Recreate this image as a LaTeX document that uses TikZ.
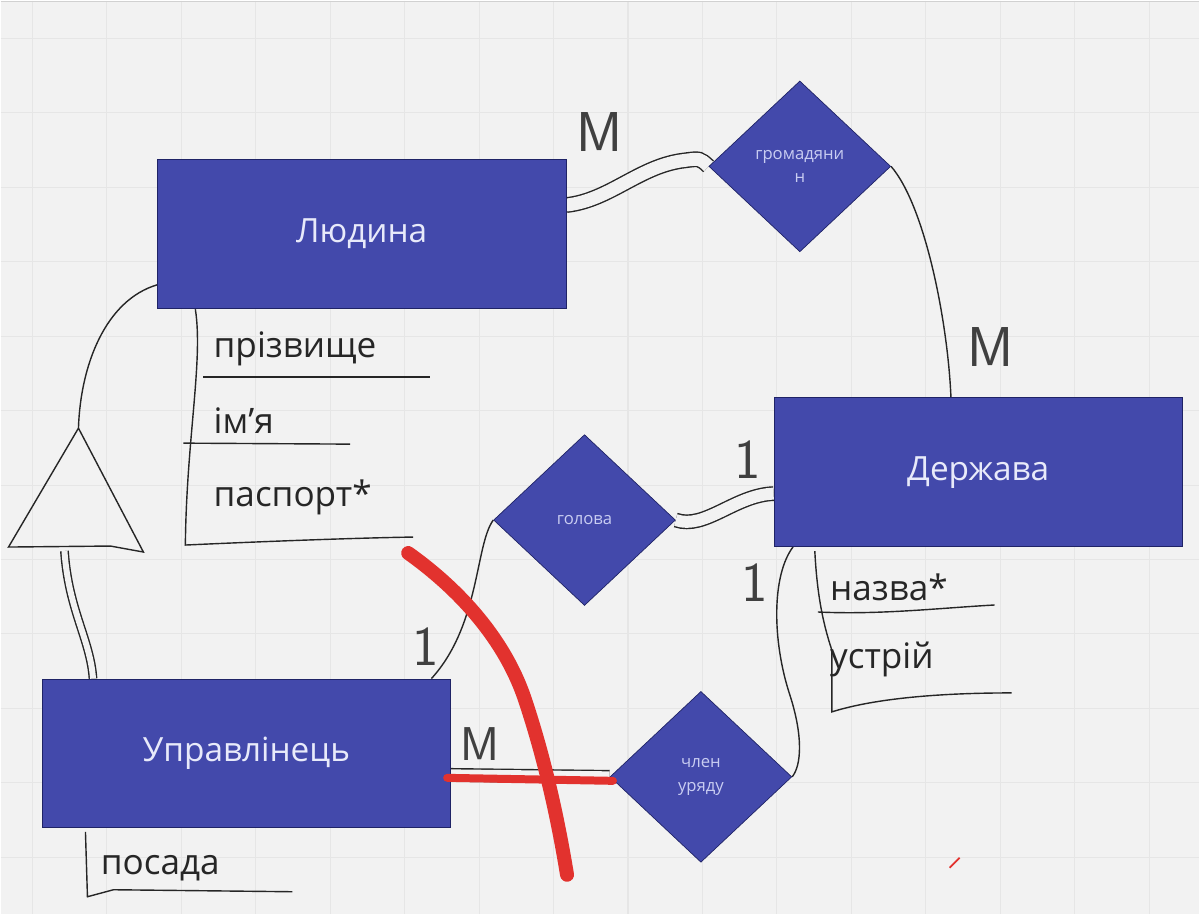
\documentclass[tikz,border=0pt]{standalone}
\usepackage{fontspec}
\setmainfont{Open Sans}
\usetikzlibrary{shapes.geometric,calc}
\definecolor{ctlo}{HTML}{F2F2F2}
\definecolor{csitka}{HTML}{E6E6E6}
\definecolor{csutnist}{HTML}{4349AB}
\definecolor{crama}{HTML}{1F2366}
\definecolor{ctekst}{HTML}{E8EAFA}
\definecolor{cromb}{HTML}{C9CDF2}
\definecolor{cchervon}{HTML}{E2322E}
\pgfdeclarelayer{pozadu}
\pgfdeclarelayer{zvyazky}
\pgfsetlayers{pozadu,zvyazky,main}
\tikzset{
  sutnist/.style={draw=crama,fill=csutnist,text=ctekst,minimum width=8.18cm,
                  minimum height=2.98cm,inner sep=0pt,font=\fontsize{19}{22}\selectfont},
  romb/.style={diamond,draw=crama,fill=csutnist,text=cromb,minimum width=3.64cm,
               minimum height=3.42cm,inner sep=0pt,align=center,
               font=\fontsize{9.5}{13.5}\selectfont},
  atryb/.style={anchor=west,inner sep=0pt,text=black!85,font=\fontsize{20}{24}\selectfont},
  liniya/.style={draw=black!85,line width=0.8pt},
  podviyna/.style={liniya,double=ctlo,double distance=0.26cm},
  kard/.style={inner sep=0pt,text=black!75,font=\sffamily\fontsize{32}{34}\selectfont},
  zakres/.style={draw=cchervon,line width=0.28cm,line cap=round},
  sitka/.style={draw=csitka,line width=0.6pt},
}

\begin{document}
\begin{tikzpicture}[x=0.02cm,y=-0.02cm]

% ---------------- tlo i sitka ----------------
\begin{pgfonlayer}{pozadu}
\fill[ctlo] (0,0) rectangle (1200,914);
\foreach \i in {0,...,15} \draw[sitka] ({32+74.5*\i},0) -- ({32+74.5*\i},914);
\foreach \j in {0,...,11} \draw[sitka] (0,{38+74.5*\j}) -- (1200,{38+74.5*\j});
\draw[draw=black!18] (0,1) -- (1200,1);
\end{pgfonlayer}
\useasboundingbox (0,0) rectangle (1200,914);

% ---------------- sutnosti i zvyazky ----------------
\node[sutnist] (lyudyna)  at (361.5,233.5) {Людина};
\node[sutnist] (derzhava) at (978.5,472)   {Держава};
\node[sutnist] (upravl)   at (246,753.5)   {Управлінець};

\node[romb] (hromad) at (800,166) {громадяни\\н};
\node[romb] (holova) at (584.5,520) {голова};
\node[romb] (chlen)  at (701,777) {член\\уряду};

% ---------------- atrybuty ----------------
\node[atryb] (prizv)  at (213,349) {прізвище};
\node[atryb] (imya)   at (213,420) {ім'я};
\node[atryb] (pasp)   at (213,497) {паспорт*};
\node[atryb] (nazva)  at (830,587) {назва*};
\node[atryb] (ustriy) at (830,660) {устрій};
\node[atryb] (posada) at (100,868) {посада};

\draw[liniya] (195,309) .. controls (203,360) and (186,440) .. (185,545)
  .. controls (250,542) and (350,538) .. (413,537);
\draw[liniya] (203,377) -- (430,377);
\draw[liniya] (183,443) -- (350,444);

\draw[liniya] (815,551) .. controls (817,590) and (822,620) .. (832,650) -- (832,712)
  .. controls (870,700) and (930,693) .. (1012,693);
\draw[liniya] (818,612) .. controls (880,615) and (940,608) .. (995,605);

\draw[liniya] (85,832) -- (87,897) -- (113,890) -- (292,892);

% ---------------- uzahalnennya ----------------
\coordinate (vershyna) at (78,428);
\coordinate (osnova) at (64,551);
\draw[liniya] (vershyna) -- (8,547) -- (110,546) -- (143,552) -- cycle;

% ---------------- linii ----------------
\begin{pgfonlayer}{zvyazky}
\draw[podviyna] (lyudyna.8) .. controls (610,200) and (640,165) .. (685,160)
  .. controls (700,158) .. (hromad.west);
\draw[liniya] (hromad.east) .. controls (925,205) and (948,320) .. (derzhava.110);
\draw[podviyna,double distance=0.24cm] (holova.east) .. controls (705,530) and (735,495) .. (derzhava.186);
\draw[liniya] (holova.west) .. controls (475,545) and (480,625) .. (upravl.22);
\draw[liniya] (derzhava.202) .. controls (772,575) and (772,640) .. (790,695)
  .. controls (803,735) and (802,765) .. (chlen.east);
\draw[podviyna,double distance=0.22cm] (upravl.-6) -- (chlen.west);
\draw[liniya] (vershyna) .. controls (80,365) and (105,300) .. (lyudyna.194);
\draw[podviyna,double distance=0.12cm] (osnova) .. controls (68,610) and (90,640) .. (upravl.154);
\end{pgfonlayer}

% ---------------- kardynalnist ----------------
\node[kard] (m1) at (600,132) {M};
\node[kard] (m2) at (991,347) {M};
\node[kard] (o1) at (748,460) {1};
\node[kard] (o2) at (755,583) {1};
\node[kard] (o3) at (426,647) {1};
\node[kard,font=\sffamily\fontsize{27}{30}\selectfont] (m3) at (480,744) {M};

% ---------------- zakreslennya ----------------
\draw[zakres] (408,553) .. controls (460,590) and (505,640) .. (525,700)
  .. controls (545,760) and (558,820) .. (567,875);
\draw[zakres,line width=0.16cm] (447,778) -- (613,781);
\draw[cchervon,line width=1pt] (950,868) -- (960,858);

\end{tikzpicture}
\end{document}
